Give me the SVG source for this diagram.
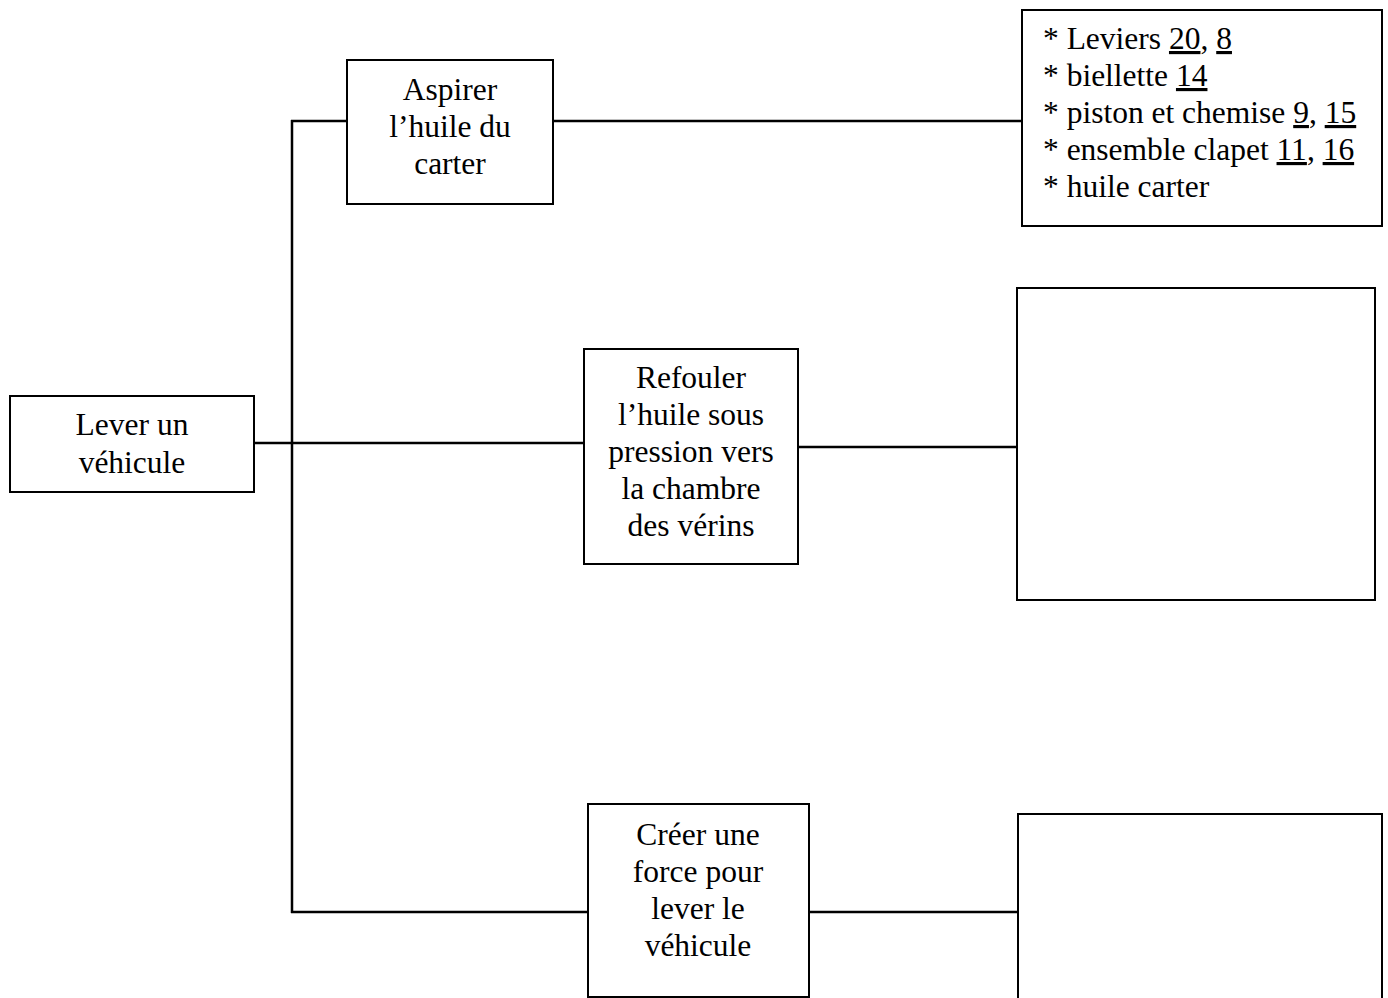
<svg xmlns="http://www.w3.org/2000/svg" width="1388" height="998" viewBox="0 0 1388 998">
<style>
.box{fill:#fff;stroke:#000;stroke-width:2}
.ln{stroke:#000;stroke-width:2.5;fill:none}
.t{font-family:"Liberation Serif","Times New Roman",serif;font-size:31.5px;fill:#000}
.c{text-anchor:middle}
.u{text-decoration:underline}
</style>
<rect width="1388" height="998" fill="#fff"/>
<g id="connectors">
<line class="ln" x1="292" y1="120" x2="292" y2="913"/>
<line class="ln" x1="291" y1="121" x2="347" y2="121"/>
<line class="ln" x1="553" y1="121" x2="1022" y2="121"/>
<line class="ln" x1="254" y1="443" x2="584" y2="443"/>
<line class="ln" x1="798" y1="447" x2="1017" y2="447"/>
<line class="ln" x1="291" y1="912" x2="588" y2="912"/>
<line class="ln" x1="806" y1="912" x2="1018" y2="912"/>
</g>
<g id="lever">
<rect class="box" x="10" y="396" width="244" height="96"/>
<text class="t c" x="132" y="435">Lever un</text>
<text class="t c" x="132" y="473">véhicule</text>
</g>
<g id="aspirer">
<rect class="box" x="347" y="60" width="206" height="144"/>
<text class="t c" x="450" y="100">Aspirer</text>
<text class="t c" x="450" y="137">l’huile du</text>
<text class="t c" x="450" y="174">carter</text>
</g>
<g id="refouler">
<rect class="box" x="584" y="349" width="214" height="215"/>
<text class="t c" x="691" y="388">Refouler</text>
<text class="t c" x="691" y="425">l’huile sous</text>
<text class="t c" x="691" y="462">pression vers</text>
<text class="t c" x="691" y="499">la chambre</text>
<text class="t c" x="691" y="536">des vérins</text>
</g>
<g id="creer">
<rect class="box" x="588" y="804" width="221" height="193"/>
<text class="t c" x="698" y="845">Créer une</text>
<text class="t c" x="698" y="882">force pour</text>
<text class="t c" x="698" y="919">lever le</text>
<text class="t c" x="698" y="956">véhicule</text>
</g>
<g id="liste">
<rect class="box" x="1022" y="10" width="360" height="216"/>
<text class="t" x="1043" y="49">* Leviers <tspan class="u">20</tspan>, <tspan class="u">8</tspan></text>
<text class="t" x="1043" y="86">* biellette <tspan class="u">14</tspan></text>
<text class="t" x="1043" y="123">* piston et chemise <tspan class="u">9</tspan>, <tspan class="u">15</tspan></text>
<text class="t" x="1043" y="160">* ensemble clapet <tspan class="u">11</tspan>, <tspan class="u">16</tspan></text>
<text class="t" x="1043" y="197">* huile carter</text>
</g>
<g id="vide1">
<rect class="box" x="1017" y="288" width="358" height="312"/>
</g>
<g id="vide2">
<rect class="box" x="1018" y="814" width="364" height="200"/>
</g>
</svg>
